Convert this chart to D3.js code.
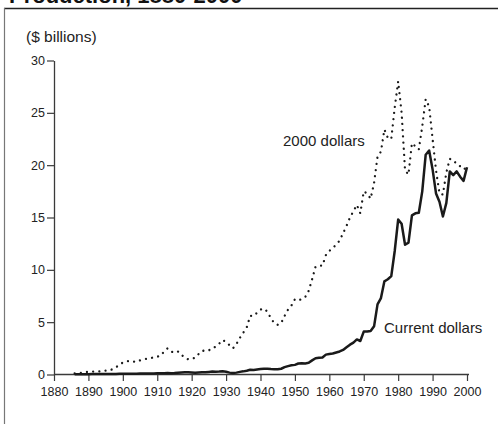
<!DOCTYPE html>
<html><head><meta charset="utf-8">
<script src="https://cdn.jsdelivr.net/npm/d3@7"></script>
<style>
html,body{margin:0;padding:0;background:#fff;}
svg{display:block;font-family:"Liberation Sans",Arial,Helvetica,sans-serif;}
</style></head>
<body>
<svg id="c" width="498" height="424"></svg>
<script>
const title = "Production, 1880-2000";
const yLabel = "($ billions)";
const years = d3.range(1886, 2001);
const current = [
0.02,0.02,0.03,0.03,0.03,0.04,0.04,0.04,0.04,0.04,0.04,0.04,0.05,0.06,
0.07,0.07,0.08,0.08,0.08,0.09,0.09,0.1,0.1,0.1,
0.11,0.11,0.13,0.15,0.13,0.14,0.17,0.2,0.21,0.22,
0.2,0.17,0.2,0.22,0.22,0.25,0.28,0.27,0.28,0.3,
0.26,0.18,0.14,0.18,0.25,0.3,0.36,0.45,0.44,0.48,
0.52,0.55,0.56,0.52,0.5,0.5,0.55,0.7,0.8,0.88,
0.92,1.05,1.08,1.06,1.12,1.35,1.55,1.6,1.62,1.9,
1.96,2.0,2.1,2.2,2.35,2.6,2.85,3.05,3.35,3.2,
4.1,4.1,4.15,4.6,6.7,7.3,8.9,9.1,9.4,11.8,
14.8,14.4,12.4,12.6,15.2,15.4,15.45,17.5,21.0,21.4,
19.6,17.3,16.5,15.1,16.4,19.4,19.05,19.4,18.9,18.5,
19.8];
const real2000 = [
0.1,0.12,0.17,0.2,0.27,0.28,0.28,0.3,0.33,0.37,0.4,0.5,0.7,0.9,
1.15,1.25,1.3,1.25,1.2,1.35,1.45,1.5,1.55,1.65,
1.7,1.8,2.2,2.5,2.2,2.1,2.2,1.9,1.6,1.45,
1.5,1.6,1.95,2.25,2.3,2.3,2.55,2.65,2.95,3.3,
3.1,2.8,2.5,2.9,3.5,4.0,4.5,5.6,5.6,5.9,
6.2,6.3,6.0,5.4,4.9,4.75,4.9,5.6,6.2,6.6,
7.2,7.1,7.2,7.4,8.0,9.1,10.3,10.4,10.4,11.4,
11.8,12.1,12.4,12.8,13.5,14.2,15.0,15.6,16.2,15.4,
17.5,17.3,16.8,18.3,20.8,21.3,23.4,22.6,22.5,25.5,
28.0,25.0,19.5,19.1,22.1,21.8,21.5,23.7,26.3,25.6,
22.5,19.5,17.3,17.2,19.3,20.6,20.5,20.1,19.9,19.6,
19.8];
const xTicks = d3.range(1880, 2001, 10);
const yTicks = [0,5,10,15,20,25,30];
const seriesLabels = ["2000 dollars", "Current dollars"];

const svg = d3.select("#c");
const x = d3.scaleLinear().domain([1880, 2000]).range([54, 467]);
const y = d3.scaleLinear().domain([0, 30]).range([374.5, 60.5]);
const axisCol = "#3a3a3a";

// frame
svg.append("line").attr("x1",4).attr("x2",498).attr("y1",8.5).attr("y2",8.5)
  .attr("stroke","#222").attr("stroke-width",1.6);
svg.append("line").attr("x1",4.5).attr("x2",4.5).attr("y1",8).attr("y2",424)
  .attr("stroke","#777").attr("stroke-width",1.2);

// title (cut off at top)
svg.append("text").attr("x",9).attr("y",3).attr("font-size",22).attr("font-weight","bold")
  .attr("fill","#111").text(title);

// y label
svg.append("text").attr("x",26).attr("y",42).attr("font-size",15.5).attr("fill","#222").text(yLabel);

// axes
const gx = svg.append("g").attr("transform","translate(0,374.5)")
  .call(d3.axisBottom(x).tickValues(xTicks).tickFormat(d3.format("d")).tickSize(6.5).tickSizeOuter(0));
gx.select(".domain").attr("d", "M54,0H469");
const gy = svg.append("g").attr("transform","translate(54,0)")
  .call(d3.axisLeft(y).tickValues(yTicks).tickSize(7).tickSizeOuter(0).tickPadding(2));
[gx, gy].forEach(g => {
  g.selectAll(".domain").attr("stroke", axisCol).attr("stroke-width",1.3);
  g.selectAll(".tick line").attr("stroke", axisCol).attr("stroke-width",1.2);
  g.selectAll("text").attr("font-size",12.5).attr("fill","#222")
   .attr("font-family",'"Liberation Sans",Arial,sans-serif');
});
gx.selectAll("text").attr("dy","0.95em");

const line = d3.line().x((d,i)=>x(years[i])).y(d=>y(d));
svg.append("path").datum(real2000).attr("d",line).attr("fill","none")
  .attr("stroke","#1a1a1a").attr("stroke-width",2.3).attr("stroke-linecap","round")
  .attr("stroke-dasharray","0.01 6.2");
svg.append("path").datum(current).attr("d",line).attr("fill","none")
  .attr("stroke","#1a1a1a").attr("stroke-width",2.5).attr("stroke-linejoin","round");

svg.append("text").attr("x",283).attr("y",146).attr("font-size",15).attr("fill","#222").text(seriesLabels[0]);
svg.append("text").attr("x",384).attr("y",333).attr("font-size",15).attr("fill","#222").text(seriesLabels[1]);
</script>
</body></html>
